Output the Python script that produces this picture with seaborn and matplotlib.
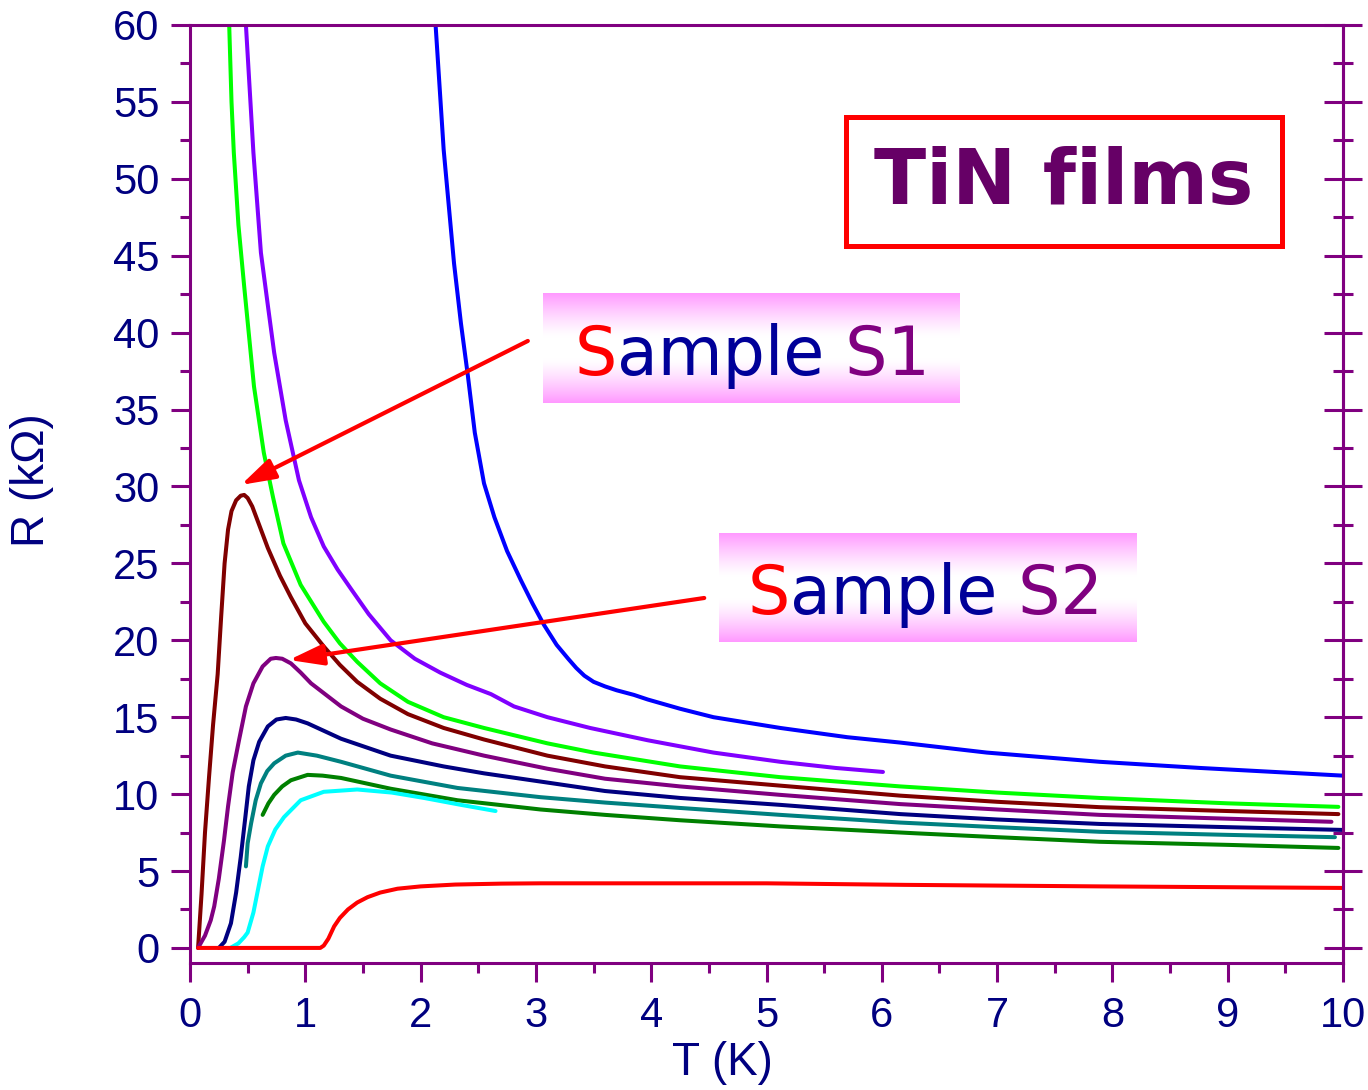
import numpy as np
import matplotlib
matplotlib.use("Agg")
import matplotlib.pyplot as plt
from matplotlib.patches import Rectangle
from matplotlib.ticker import MultipleLocator
import seaborn as sns

# ---- R(T) curves of the TiN films: temperature (K), resistance (kOhm) ----
T_blue = [2.13, 2.20, 2.29, 2.35, 2.41, 2.47, 2.55, 2.64, 2.75, 2.87, 2.97, 3.07, 3.18,
          3.28, 3.35, 3.42, 3.50, 3.60, 3.70, 3.85, 3.97, 4.25, 4.54, 5.12, 5.70, 6.16,
          6.91, 7.89, 8.76, 10.0]
R_blue = [60.0, 51.9, 44.5, 40.6, 37.2, 33.5, 30.2, 28.0, 25.8, 23.9, 22.4, 21.0, 19.7,
          18.8, 18.2, 17.7, 17.3, 17.0, 16.75, 16.45, 16.15, 15.55, 15.0, 14.3, 13.7, 13.35,
          12.7, 12.1, 11.7, 11.2]

T_violet = [0.485, 0.55, 0.615, 0.68, 0.73, 0.83, 0.945, 1.05, 1.16, 1.28, 1.40, 1.55, 1.74,
            1.95, 2.17, 2.40, 2.61, 2.81, 3.10, 3.47, 3.97, 4.54, 5.12, 5.60, 6.01]
R_violet = [60.0, 51.7, 45.2, 41.5, 38.7, 34.3, 30.4, 28.0, 26.1, 24.6, 23.3, 21.7, 20.0,
            18.8, 17.9, 17.1, 16.5, 15.7, 15.0, 14.3, 13.5, 12.7, 12.1, 11.7, 11.44]

T_green = [0.34, 0.36, 0.38, 0.42, 0.47, 0.555, 0.64, 0.72, 0.81, 0.96, 1.16, 1.30, 1.45,
           1.65, 1.89, 2.20, 2.55, 3.10, 3.50, 4.25, 5.12, 6.16, 7.00, 7.89, 9.00, 9.96]
R_green = [60.0, 55.0, 51.7, 47.0, 43.0, 36.5, 32.2, 29.3, 26.3, 23.6, 21.2, 19.8, 18.6,
           17.2, 16.0, 15.0, 14.3, 13.3, 12.7, 11.8, 11.1, 10.5, 10.1, 9.75, 9.4, 9.17]

T_maroon = [0.07, 0.10, 0.13, 0.165, 0.20, 0.24, 0.27, 0.30, 0.33, 0.36, 0.40, 0.44, 0.47,
            0.50, 0.54, 0.58, 0.675, 0.78, 0.875, 1.00, 1.16, 1.30, 1.45, 1.65, 1.89, 2.20,
            2.55, 3.10, 3.60, 4.25, 5.12, 6.16, 7.00, 7.89, 9.00, 9.96]
R_maroon = [0.0, 3.5, 7.5, 11.1, 14.5, 17.8, 21.5, 25.0, 27.2, 28.4, 29.1, 29.4, 29.45,
            29.25, 28.7, 27.9, 26.0, 24.2, 22.8, 21.1, 19.6, 18.4, 17.3, 16.2, 15.2, 14.3,
            13.55, 12.5, 11.8, 11.1, 10.55, 9.9, 9.5, 9.15, 8.9, 8.7]

T_purple = [0.07, 0.13, 0.18, 0.21, 0.25, 0.295, 0.33, 0.37, 0.425, 0.485, 0.55, 0.63, 0.70,
            0.745, 0.80, 0.875, 0.96, 1.05, 1.31, 1.50, 1.74, 2.10, 2.55, 3.10, 3.60, 4.25,
            5.12, 6.16, 7.00, 7.89, 9.90]
R_purple = [0.0, 0.8, 1.8, 2.7, 4.5, 7.0, 9.2, 11.4, 13.5, 15.7, 17.2, 18.3, 18.8,
            18.85, 18.8, 18.5, 17.9, 17.2, 15.7, 14.9, 14.2, 13.3, 12.5, 11.65, 11.0, 10.5,
            9.95, 9.35, 9.0, 8.65, 8.2]

T_navy = [0.25, 0.30, 0.355, 0.40, 0.44, 0.48, 0.51, 0.55, 0.60, 0.675, 0.75, 0.83, 0.92,
          1.02, 1.31, 1.74, 2.20, 2.55, 3.10, 3.60, 4.25, 5.12, 6.16, 7.00, 7.89, 9.00, 10.0]
R_navy = [0.0, 0.4, 1.6, 3.6, 5.9, 8.5, 10.5, 12.2, 13.4, 14.4, 14.85, 14.95, 14.85,
          14.6, 13.6, 12.5, 11.8, 11.35, 10.75, 10.2, 9.75, 9.3, 8.7, 8.35, 8.06, 7.85, 7.67]

T_teal = [0.485, 0.50, 0.53, 0.57, 0.615, 0.67, 0.73, 0.83, 0.935, 1.10, 1.31, 1.74, 2.32,
          3.04, 3.60, 4.25, 5.12, 6.16, 7.00, 7.89, 9.00, 9.93]
R_teal = [5.3, 6.8, 8.1, 9.6, 10.7, 11.5, 12.0, 12.5, 12.7, 12.5, 12.1, 11.2, 10.4,
          9.8, 9.45, 9.1, 8.65, 8.15, 7.85, 7.55, 7.35, 7.2]

T_dkgreen = [0.63, 0.68, 0.73, 0.80, 0.875, 1.02, 1.15, 1.31, 1.74, 2.32, 3.04, 3.60, 4.25,
             5.12, 6.30, 7.00, 7.89, 9.00, 9.96]
R_dkgreen = [8.65, 9.4, 9.95, 10.5, 10.9, 11.25, 11.2, 11.05, 10.35, 9.6, 9.0, 8.65, 8.3,
             7.9, 7.45, 7.2, 6.9, 6.7, 6.5]

T_cyan = [0.35, 0.42, 0.47, 0.50, 0.55, 0.59, 0.63, 0.675, 0.74, 0.815, 0.96, 1.16, 1.45,
          1.75, 2.03, 2.35, 2.65]
R_cyan = [0.0, 0.3, 0.7, 1.0, 2.3, 3.8, 5.3, 6.6, 7.7, 8.5, 9.6, 10.15, 10.3,
          10.1, 9.75, 9.3, 8.9]

T_red = [0.07, 1.13, 1.16, 1.20, 1.25, 1.30, 1.37, 1.45, 1.54, 1.65, 1.80, 2.00, 2.30,
         2.70, 3.04, 5.00, 6.20, 7.90, 10.0]
R_red = [0.0, 0.0, 0.15, 0.6, 1.4, 1.95, 2.5, 2.95, 3.3, 3.6, 3.85, 4.0, 4.12,
         4.18, 4.2, 4.2, 4.1, 4.0, 3.9]

curves = [
    (T_blue, R_blue, "#0000ff"),
    (T_violet, R_violet, "#8000ff"),
    (T_green, R_green, "#00ff00"),
    (T_maroon, R_maroon, "#800000"),
    (T_purple, R_purple, "#800080"),
    (T_navy, R_navy, "#000080"),
    (T_teal, R_teal, "#008080"),
    (T_dkgreen, R_dkgreen, "#008000"),
    (T_cyan, R_cyan, "#00ffff"),
    (T_red, R_red, "#ff0000"),
]

# arrow tails/tips pointing at the two samples (T, R)
arrow_s1 = ((2.93, 39.46), (0.442, 30.10))
arrow_s2 = ((4.46, 22.75), (0.858, 18.72))

x_ticks = list(range(0, 11))
y_ticks = list(range(0, 61, 5))

PURPLE = "#800080"
NAVY = "#000080"
W, H = 1368, 1090

sns.set_style("ticks")
plt.rcParams["font.family"] = ["Liberation Sans", "DejaVu Sans"]

fig = plt.figure(figsize=(W / 100, H / 100), dpi=100)
ax = fig.add_axes([190 / W, 1 - 963 / H, (1343 - 190) / W, (963 - 25) / H])

for T, R, col in curves:
    sns.lineplot(x=T, y=R, color=col, lw=2.9, ax=ax, sort=False,
                 estimator=None, legend=False)

ax.set_xlim(0, 10)
ax.set_ylim(-0.98, 60)
ax.set_xticks(x_ticks)
ax.set_yticks(y_ticks)
ax.xaxis.set_minor_locator(MultipleLocator(0.5))
ax.yaxis.set_minor_locator(MultipleLocator(2.5))
ax.tick_params(which="major", direction="out", length=14, width=2.2,
               color=PURPLE, labelsize=30, labelcolor=NAVY)
ax.tick_params(which="minor", direction="out", length=7.5, width=2.2, color=PURPLE)
ax.tick_params(axis="x", which="major", pad=10)
ax.tick_params(axis="y", which="major", pad=8)
for sp in ax.spines.values():
    sp.set_color(PURPLE)
    sp.set_linewidth(2.2)

# right-hand axis: ticks crossing the frame, no labels
sec = ax.secondary_yaxis("right")
sec.set_yticks(y_ticks)
sec.yaxis.set_minor_locator(MultipleLocator(2.5))
sec.tick_params(which="major", direction="inout", length=28, width=2.2,
                color=PURPLE, labelright=False)
sec.tick_params(which="minor", direction="inout", length=14, width=2.2, color=PURPLE)
sec.spines["right"].set_color(PURPLE)
sec.spines["right"].set_linewidth(2.2)

ax.set_xlabel("T (K)", fontsize=33, color=NAVY)
ax.set_ylabel("R (kΩ)", fontsize=33, color=NAVY)
ax.xaxis.set_label_coords(0.462, -0.083)
ax.yaxis.set_label_coords(-0.118, 0.515)

for (tail, tip) in (arrow_s1, arrow_s2):
    ax.annotate("", xy=tip, xytext=tail,
                arrowprops=dict(arrowstyle="-|>,head_length=1.3,head_width=0.4",
                                color="#ff0000", lw=3.0, shrinkA=0, shrinkB=0,
                                mutation_scale=16))

# "TiN films" title box
fig.patches.append(Rectangle((846 / W, 1 - 246 / H), 436 / W, 129 / H,
                             transform=fig.transFigure, facecolor="white",
                             edgecolor="#ff0000", lw=3.6, zorder=2))
fig.text(1064 / W, 1 - 183 / H, "TiN films", ha="center", va="center",
         fontsize=55, fontweight="bold", color="#660066",
         family=["DejaVu Sans"], zorder=3)

# pink gradient label boxes
tt = np.linspace(0, 1, 200)[:, None]
wgt = np.clip((np.abs(2 * tt - 1) - 0.2) / 0.8, 0, 1) ** 1.3
pink = np.array([1.0, 0.6, 1.0])
grad = 1 - wgt[..., None] * (1 - pink)


def sample_box(left, top, right, bottom, digit, tx, ty):
    bx = fig.add_axes([left / W, 1 - bottom / H, (right - left) / W, (bottom - top) / H])
    bx.set_axis_off()
    bx.imshow(grad, extent=[0, 1, 0, 1], aspect="auto", interpolation="bilinear")
    bx.set_xlim(0, 1)
    bx.set_ylim(0, 1)
    kw = dict(fontsize=48, family=["DejaVu Sans"])
    t1 = bx.text(tx, ty, "S", color="#ff0000", va="baseline", ha="left", **kw)
    t2 = bx.annotate("ample", xycoords=t1, xy=(1, 0), va="bottom", ha="left",
                     color="#000099", **kw)
    bx.annotate(" S" + digit, xycoords=t2, xy=(1, 0), va="bottom", ha="left",
                color="#800080", **kw)


sample_box(543, 293, 960, 403, "1", 0.075, 0.25)
sample_box(719, 533, 1136, 642, "2", 0.068, 0.26)

fig.savefig("out.png", dpi=100)
